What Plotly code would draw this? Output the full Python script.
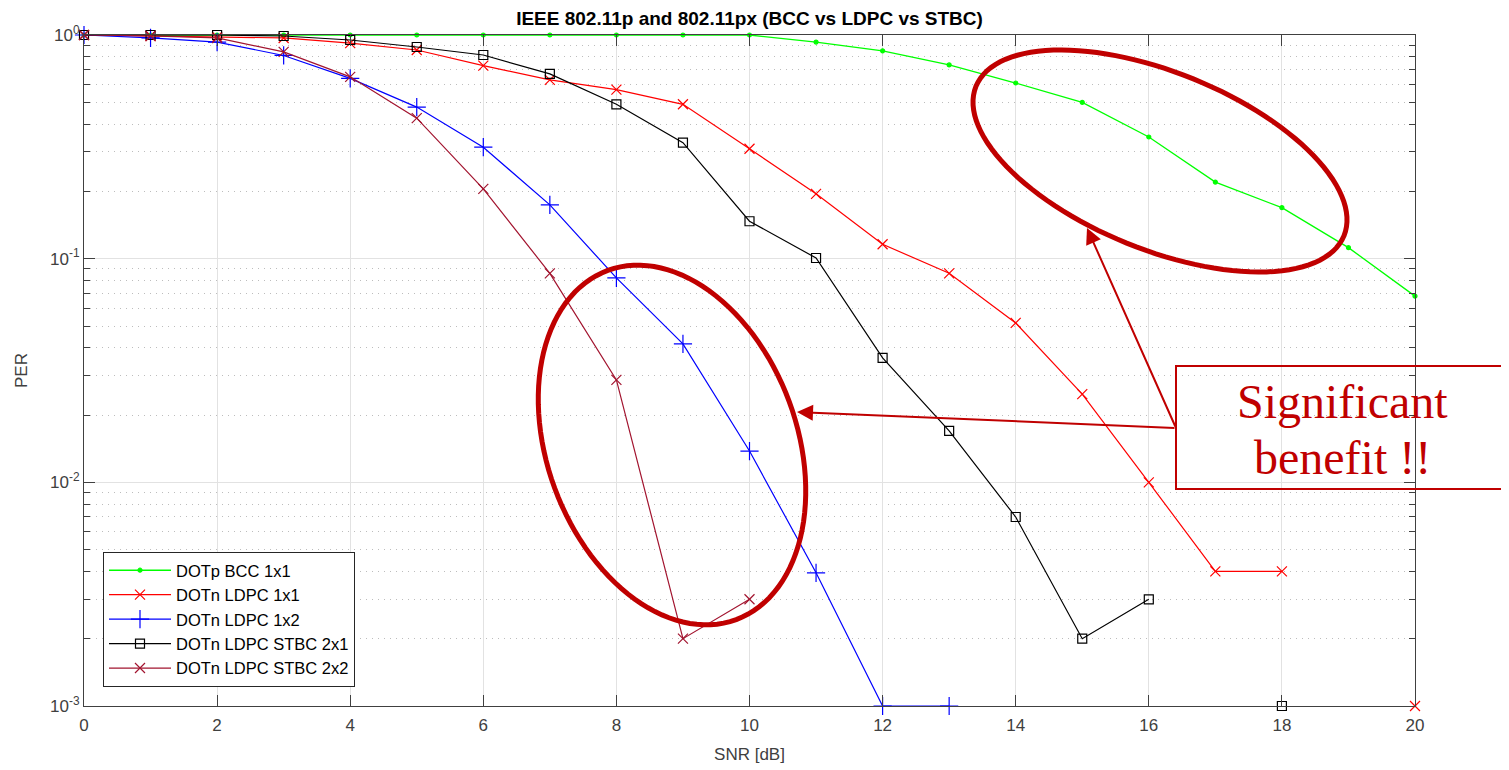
import math
import plotly.graph_objects as go

# ---------------- data ----------------
snr = list(range(21))
per_bcc_1x1 = [1, 1, 1, 1, 1, 1, 1, 1, 1, 1, 1, 0.93, 0.85, 0.735, 0.61, 0.50, 0.35, 0.22, 0.169, 0.112, 0.068]
per_ldpc_1x1 = [1, 0.99, 0.98, 0.97, 0.92, 0.857, 0.73, 0.63, 0.57, 0.49, 0.31, 0.195, 0.116, 0.086, 0.0516,
                0.0248, 0.01, 0.004, 0.004, None, 0.001]
per_ldpc_1x2 = [1, 0.97, 0.93, 0.81, 0.64, 0.476, 0.315, 0.174, 0.082, 0.0416, 0.0138, 0.00394, 0.001, 0.001,
                None, None, None, None, None, None, None]
per_stbc_2x1 = [1, 1, 1, 0.99, 0.95, 0.884, 0.814, 0.67, 0.49, 0.33, 0.147, 0.1007, 0.036, 0.017, 0.007,
                0.002, 0.003, None, 0.001, None, None]
per_stbc_2x2 = [1, 0.99, 0.97, 0.84, 0.65, 0.425, 0.205, 0.086, 0.0287, 0.002, 0.003,
                None, None, None, None, None, None, None, None, None, None]

series_names = ["DOTp BCC 1x1", "DOTn LDPC 1x1", "DOTn LDPC 1x2", "DOTn LDPC STBC 2x1", "DOTn LDPC STBC 2x2"]
x_tick_vals = list(range(0, 21, 2))
y_tick_vals = [0.001, 0.01, 0.1, 1]
y_tick_text = ["10<sup>-3</sup>", "10<sup>-2</sup>", "10<sup>-1</sup>", "10<sup>0</sup>"]
y_minor_vals = [m * d for d in (0.001, 0.01, 0.1) for m in range(2, 10)]

title_text = "IEEE 802.11p and 802.11px (BCC vs LDPC vs STBC)"
callout_lines = ["Significant", "benefit !!"]

# ---------------- styles ----------------
FONT = "Liberation Sans, Arial, sans-serif"
AX = "#404040"
ANN = "#C00000"
OFF = 8                        # page body margin of the html page
W, H = 1509 - OFF, 770 - OFF
L, R, T, B = 84, 1415, 35, 706  # plot area in page pixels


def px(x):
    return (x - L) / (R - L)


def py(y):
    return (B - y) / (B - T)


styles = [
    dict(color="#00FF00", symbol="circle", size=4, lw=1.3),
    dict(color="#FF0000", symbol="x-thin-open", size=10, lw=1.2),
    dict(color="#0000FF", symbol="cross-thin-open", size=13, lw=1.2),
    dict(color="#000000", symbol="square-open", size=9, lw=1.2),
    dict(color="#A2142F", symbol="x-thin-open", size=10, lw=1.2),
]
all_series = [per_bcc_1x1, per_ldpc_1x1, per_ldpc_1x2, per_stbc_2x1, per_stbc_2x2]

fig = go.Figure()
for i, (name, vals, st) in enumerate(zip(series_names, all_series, styles)):
    fig.add_trace(go.Scatter(
        x=snr, y=vals, name=name, mode="lines+markers",
        line=dict(color=st["color"], width=st["lw"]),
        marker=dict(symbol=st["symbol"], size=st["size"], color=st["color"],
                    line=dict(color=st["color"], width=1.2)),
        cliponaxis=False, connectgaps=False, legendgroup=f"g{i}",
    ))

fig.update_layout(
    width=W, height=H,
    margin=dict(l=L - OFF, r=W - (R - OFF), t=T - OFF, b=H - (B - OFF), autoexpand=False),
    paper_bgcolor="white", plot_bgcolor="white",
    font=dict(family=FONT, color="#262626", size=16),
    title=dict(text=title_text, x=0.5, xref="paper", xanchor="center",
               y=1 - (18 - OFF) / H, yref="container", yanchor="middle",
               font=dict(family=FONT, size=19, color="#000000", weight="bold")),
    showlegend=True,
    legend=dict(x=px(103), y=py(687), xanchor="left", yanchor="bottom",
                bgcolor="white", bordercolor="#262626", borderwidth=1,
                font=dict(family=FONT, size=16.5, color="#000000"),
                tracegroupgap=0, itemwidth=62),
)

fig.update_xaxes(
    range=[0, 20], tickvals=x_tick_vals, ticktext=[str(v) for v in x_tick_vals],
    showline=True, linecolor=AX, linewidth=1, mirror="ticks",
    ticks="inside", ticklen=11, tickcolor=AX, tickwidth=1,
    showgrid=True, gridcolor="#e2e2e2", gridwidth=1, zeroline=False,
    tickfont=dict(family=FONT, size=17, color="#404040"), ticklabelstandoff=4,
    title=dict(text="SNR [dB]", font=dict(family=FONT, size=17, color="#404040"), standoff=13),
)
fig.update_yaxes(
    type="log", range=[-3, 0], tickvals=y_tick_vals, ticktext=y_tick_text,
    showline=True, linecolor=AX, linewidth=1, mirror="ticks",
    ticks="inside", ticklen=11, tickcolor=AX, tickwidth=1,
    showgrid=True, gridcolor="#e2e2e2", gridwidth=1, zeroline=False,
    tickfont=dict(family=FONT, size=17, color="#404040"),
    minor=dict(tickmode="array", tickvals=y_minor_vals,
               ticks="inside", ticklen=6, tickcolor=AX, tickwidth=1,
               showgrid=True, gridcolor="#bdbdbd", griddash="1px,5px", gridwidth=1),
    title=dict(text="PER", font=dict(family=FONT, size=17, color="#404040"), standoff=18),
)


# ---------------- decorations: ellipses, box, arrows ----------------
def ellipse_path(cx, cy, a, b, theta_deg, n=120):
    th = math.radians(theta_deg)
    pts = []
    for k in range(n + 1):
        t = 2 * math.pi * k / n
        X = cx + a * math.cos(th) * math.cos(t) - b * math.sin(th) * math.sin(t)
        Y = cy + a * math.sin(th) * math.cos(t) + b * math.cos(th) * math.sin(t)
        pts.append(f"{px(X):.5f},{py(Y):.5f}")
    return "M" + " L".join(pts) + " Z"


fig.add_shape(type="path", xref="paper", yref="paper",
              path=ellipse_path(1160, 161, 198.6, 88.6, 22.1),
              line=dict(color=ANN, width=5), layer="above")
fig.add_shape(type="path", xref="paper", yref="paper",
              path=ellipse_path(672, 445, 186, 125, 69.8),
              line=dict(color=ANN, width=5), layer="above")

fig.add_shape(type="rect", xref="paper", yref="paper",
              x0=px(1176), x1=px(1507), y0=py(489), y1=py(366),
              line=dict(color=ANN, width=2), fillcolor="rgba(0,0,0,0)", layer="above")

SERIF = "Liberation Serif, Times New Roman, serif"
fig.add_annotation(xref="paper", yref="paper", x=px(1342), y=py(401), text=callout_lines[0],
                   showarrow=False, xanchor="center", yanchor="middle",
                   font=dict(family=SERIF, size=48, color=ANN))
fig.add_annotation(xref="paper", yref="paper", x=px(1342), y=py(457), text=callout_lines[1],
                   showarrow=False, xanchor="center", yanchor="middle",
                   font=dict(family=SERIF, size=48, color=ANN))

# arrows (tip at x,y; tail offset in pixels)
fig.add_annotation(xref="paper", yref="paper", x=px(797), y=py(412), text="",
                   showarrow=True, ax=1176 - 797, ay=428 - 412,
                   arrowhead=2, arrowsize=1.6, arrowwidth=2, arrowcolor=ANN, standoff=0, startstandoff=0)
fig.add_annotation(xref="paper", yref="paper", x=px(1087), y=py(228), text="",
                   showarrow=True, ax=1176 - 1087, ay=428 - 228,
                   arrowhead=2, arrowsize=1.6, arrowwidth=2, arrowcolor=ANN, standoff=0, startstandoff=0)

fig.write_html("out.html")
